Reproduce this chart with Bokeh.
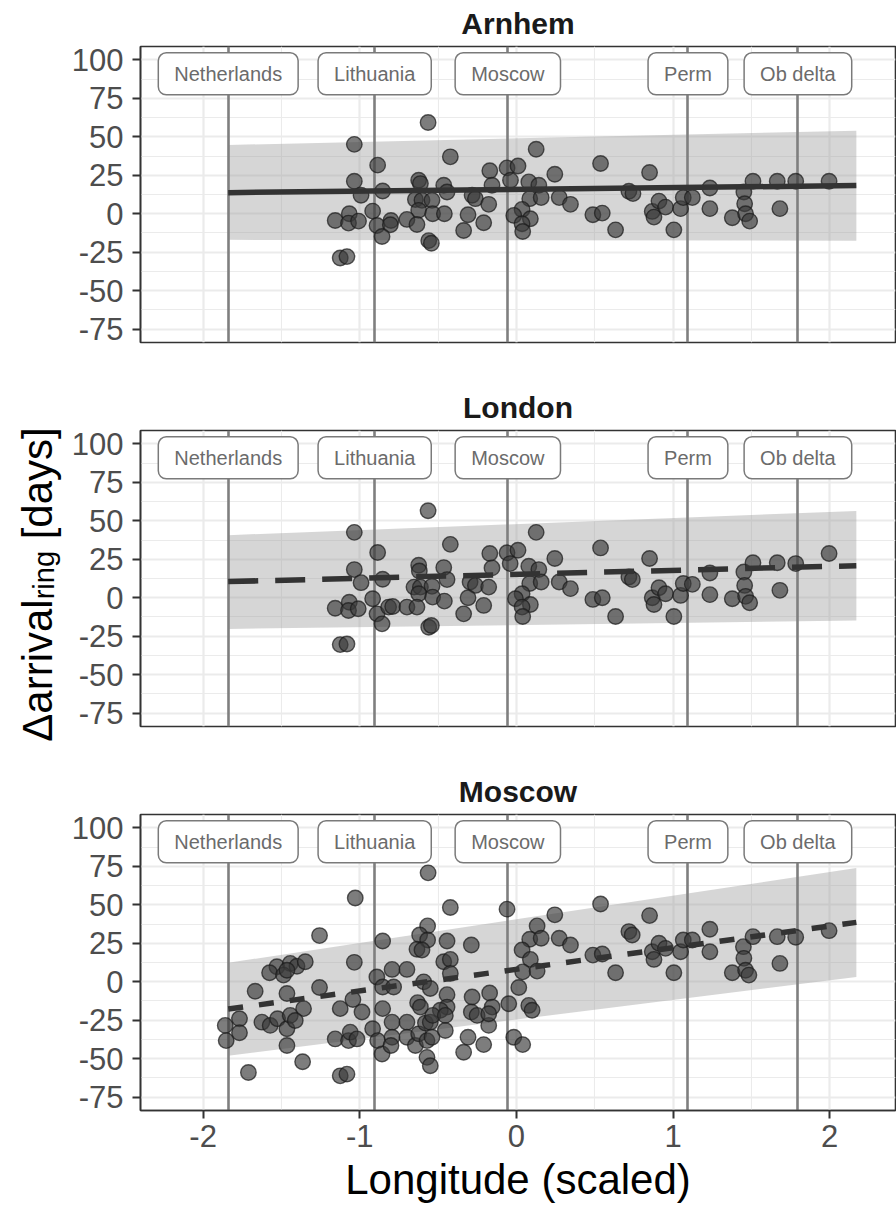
import math
from bokeh.plotting import figure
from bokeh.layouts import row, column
from bokeh.models import Range1d, FixedTicker, Label, Span
from bokeh.embed import file_html
from bokeh.resources import INLINE
from bokeh.core.properties import value

FONT = "Liberation Sans"

# ---------------- data ----------------
panel_titles = ["Arnhem", "London", "Moscow"]
site_names = ["Netherlands", "Lithuania", "Moscow", "Perm", "Ob delta"]
site_lon = [-1.84, -0.905, -0.055, 1.095, 1.797]
site_label_y = 91

x_ticks = [-2, -1, 0, 1, 2]
x_minor = [-1.5, -0.5, 0.5, 1.5]
y_ticks = [-75, -50, -25, 0, 25, 50, 75, 100]
y_minor = [-62.5, -37.5, -12.5, 12.5, 37.5, 62.5, 87.5]
x_lim = (-2.40, 2.42)
y_lim = (-83.75, 108.75)

arnhem_x = [-0.564, -1.035, -0.422, -0.886, -1.035, -0.170, -0.060, 0.010, -0.624, -0.613,
            -0.464, -0.443, -0.156, -0.038, -0.992, -0.854, -0.283, -0.262, -0.645, -0.603,
            -0.539, -0.177, -0.918, -0.624, -0.535, -0.460, -0.309, -1.157, -1.067, -1.072,
            -1.008, -0.890, -0.801, -0.805, -0.699, -0.635, -0.209, -0.858, -0.337, -0.560,
            -0.543, -1.125, -1.082,
            0.126, 0.079, 0.143, 0.245, 0.537, 0.850, 0.085, 0.158, 0.273, 0.345,
            0.036, -0.017, 0.089, 0.036, 0.040, 0.488, 0.548, 0.633, 0.718, 0.744,
            0.867, 0.878, 0.910, 0.952, 1.005, 1.048, 1.065, 1.123, 1.235, 1.235,
            1.378, 1.452, 1.457, 1.463, 1.489, 1.510, 1.665, 1.682, 1.783, 1.996]
arnhem_y = [59.3, 45.1, 37.0, 31.6, 21.1, 27.9, 29.8, 31.0, 21.8, 19.6,
            18.5, 14.1, 18.5, 21.8, 12.0, 14.8, 12.0, 9.8, 9.2, 8.7,
            8.7, 6.1, 1.7, 2.2, 0.0, 0.0, -0.7, -4.4, 0.0, -6.1,
            -4.8, -7.7, -4.4, -7.2, -3.7, -7.0, -5.9, -14.8, -10.9, -17.5,
            -19.2, -28.8, -27.9,
            41.9, 20.7, 18.5, 25.7, 32.7, 26.8, 9.8, 10.5, 10.5, 6.1,
            2.8, -1.1, -3.3, -6.5, -11.6, -0.7, 0.4, -10.5, 14.6, 13.1,
            1.5, -2.2, 8.2, 4.3, -10.5, 3.3, 10.5, 10.5, 16.7, 3.3,
            -2.6, 14.1, 6.5, 0.0, -4.8, 21.1, 21.1, 3.3, 21.1, 21.1]

london_x = [-0.564, -1.035, -0.422, -0.886, -1.035, -0.170, -0.060, 0.010, -0.624, -0.620,
            -0.464, -0.443, -0.156, -0.040, -0.992, -0.854, -0.296, -0.262, -0.654, -0.613,
            -0.539, -0.177, -0.918, -0.624, -0.535, -0.460, -0.309, -1.157, -1.067, -1.072,
            -1.010, -0.890, -0.816, -0.790, -0.699, -0.635, -0.209, -0.858, -0.337, -0.560,
            -0.543, -1.125, -1.082,
            0.126, 0.079, 0.143, 0.245, 0.537, 0.850, 0.085, 0.158, 0.273, 0.345,
            0.036, -0.006, 0.089, 0.036, 0.040, 0.488, 0.548, 0.633, 0.718, 0.740,
            0.867, 0.878, 0.910, 0.952, 1.005, 1.048, 1.065, 1.123, 1.235, 1.235,
            1.378, 1.452, 1.457, 1.463, 1.489, 1.510, 1.665, 1.682, 1.783, 1.996]
london_y = [56.6, 42.5, 34.7, 29.4, 18.3, 28.8, 29.2, 30.9, 21.1, 17.4,
            19.6, 11.8, 19.4, 22.2, 9.8, 12.0, 10.2, 8.0, 6.9, 6.9,
            7.4, 6.9, -0.7, 2.6, 0.4, -2.2, 0.0, -6.8, -2.9, -8.3,
            -7.2, -10.5, -6.1, -5.7, -6.1, -6.1, -5.0, -17.0, -10.5, -19.2,
            -18.1, -30.5, -30.1,
            42.5, 20.5, 18.3, 25.5, 32.4, 25.5, 9.2, 10.2, 10.2, 5.9,
            2.6, -0.7, -4.4, -6.1, -12.2, -1.1, 0.0, -12.2, 13.5, 11.8,
            0.0, -4.4, 6.5, 2.6, -12.2, 1.5, 9.2, 8.7, 16.1, 2.0,
            -0.7, 16.7, 8.0, 0.9, -3.3, 22.7, 22.7, 4.8, 22.2, 28.8]

moscow_x = [-0.564, -1.029, -0.422, -0.060, -1.257, -1.035, -0.567, -0.618, -0.567, -0.635,
            -0.603, -0.854, -0.443, -0.288, -1.529, -1.444, -1.401, -1.348, -1.576, -1.487,
            -1.465, -0.464, -0.422, -0.422, -0.794, -0.699, -0.891, -0.854, -1.257, -1.668,
            -1.465, -0.784, -0.592, -0.550, -1.044, -0.631, -0.613, -0.443, -0.283, -0.171,
            -1.359, -1.125, -0.986, -0.854, -0.443, -0.486, -0.288, -0.251, -0.155, -0.177,
            -0.049, -1.859, -1.853, -1.768, -1.768, -1.625, -1.572, -1.525, -1.465, -1.444,
            -1.412, -1.465, -1.365, -1.711, -1.157, -1.072, -1.061, -1.018, -1.125, -1.082,
            -0.918, -0.886, -0.858, -0.794, -0.794, -0.801, -0.699, -0.699, -0.645, -0.624,
            -0.581, -0.550, -0.571, -0.539, -0.571, -0.550, -0.535, -0.454, -0.454, -0.309,
            -0.337, -0.209, -0.177,
            0.245, 0.537, 0.850, 0.132, 0.085, 0.158, 0.273, 0.345, 0.036, 0.089,
            0.040, 0.132, 0.015, 0.079, 0.100, -0.017, 0.040, 0.488, 0.548, 0.633,
            0.718, 0.739, 0.867, 0.878, 0.910, 0.952, 1.005, 1.048, 1.065, 1.123,
            1.235, 1.235, 1.378, 1.449, 1.452, 1.463, 1.484, 1.510, 1.665, 1.682,
            1.783, 1.996]
moscow_y = [70.8, 54.4, 48.3, 47.2, 30.0, 12.6, 36.3, 30.4, 27.1, 21.1,
            20.6, 26.5, 26.5, 23.9, 9.7, 11.9, 10.1, 13.0, 5.8, 4.3,
            7.5, 13.0, 14.5, 5.4, 8.0, 8.0, 3.1, -3.4, -3.8, -6.2,
            -7.7, -3.4, -0.1, -4.4, -11.6, -13.6, -16.5, -8.4, -9.9, -7.3,
            -17.5, -17.5, -19.7, -17.5, -16.5, -18.6, -19.7, -21.9, -16.5, -28.4,
            -14.3, -28.4, -38.3, -24.1, -33.2, -26.3, -28.4, -24.1, -30.6, -21.9,
            -25.2, -41.5, -52.0, -59.0, -37.2, -38.3, -32.8, -37.2, -61.2, -60.1,
            -30.6, -38.3, -47.0, -26.3, -36.1, -41.5, -26.3, -36.1, -41.5, -33.9,
            -26.9, -26.3, -38.3, -36.1, -49.2, -54.6, -21.9, -21.9, -31.7, -36.1,
            -45.9, -40.9, -20.8,
            43.5, 50.5, 43.0, 36.3, 27.6, 28.3, 28.3, 23.9, 20.6, 14.5,
            6.4, 6.9, -3.8, -15.4, -18.6, -36.1, -40.9, 17.3, 18.0, 5.8,
            32.6, 30.4, 19.5, 14.5, 25.0, 21.7, 5.8, 19.5, 27.1, 27.1,
            34.1, 19.5, 5.8, 22.8, 15.2, 7.5, 4.3, 29.3, 29.3, 11.9,
            28.9, 33.2]

fit_x = [-1.84, 2.17]
arnhem_fit = [13.7, 18.3]
arnhem_lo = [-17.0, -17.5]
arnhem_hi = [44.7, 54.0]
london_fit = [10.5, 20.8]
london_lo = [-20.3, -14.8]
london_hi = [40.7, 56.4]
moscow_fit = [-17.8, 38.6]
moscow_lo = [-48.1, 3.1]
moscow_hi = [12.3, 74.0]

y_title_main = "Δarrival"
y_title_sub = "ring"
y_title_tail = "[days]"
x_title = "Longitude (scaled)"

# ---------------- layout constants (pixels) ----------------
YL_W = 66
LEFT = 74
RIGHT = 1
FW = 755
TOP = 46
BOT_MID = 42
BOT_LAST = 102
FH = 296


def set_padding(lab):
    try:
        lab.padding = dict(left=16, right=16, top=10, bottom=10)
    except Exception:
        lab.padding = 12


def make_panel(title, xs, ys, fit, lo, hi, dash, is_bottom):
    hb = BOT_LAST if is_bottom else BOT_MID
    p = figure(width=LEFT + FW + RIGHT, height=TOP + FH + hb,
               x_range=Range1d(*x_lim), y_range=Range1d(*y_lim),
               output_backend="svg", toolbar_location=None,
               min_border_left=LEFT, min_border_right=RIGHT,
               min_border_top=TOP, min_border_bottom=hb)
    p.title.text = title
    p.title.align = "center"
    p.title.vertical_align = "top"
    p.title.text_font = FONT
    p.title.text_font_size = "30px"
    p.title.text_font_style = "bold"
    p.title.text_color = "#1a1a1a"
    p.title.standoff = 10
    p.background_fill_color = "white"
    p.border_fill_color = "white"
    p.outline_line_color = "#333333"
    p.outline_line_width = 1.6

    xt = FixedTicker(ticks=x_ticks, minor_ticks=x_minor)
    yt = FixedTicker(ticks=y_ticks, minor_ticks=y_minor)
    p.xaxis.ticker = xt
    p.yaxis.ticker = yt
    p.xgrid.ticker = xt
    p.ygrid.ticker = yt
    for g in (p.xgrid, p.ygrid):
        g.grid_line_color = "#ebebeb"
        g.grid_line_width = 2.2
        g.minor_grid_line_color = "#ebebeb"
        g.minor_grid_line_width = 1.1

    for ax in (p.xaxis, p.yaxis):
        ax.axis_line_color = "#333333"
        ax.axis_line_width = 1.6
        ax.major_tick_line_color = "#333333"
        ax.major_tick_line_width = 2
        ax.major_tick_out = 8
        ax.major_tick_in = 0
        ax.minor_tick_line_color = None
        ax.major_label_text_font = FONT
        ax.major_label_text_font_size = "31px"
        ax.major_label_text_color = "#4d4d4d"
    p.yaxis.major_label_standoff = 9
    p.xaxis.major_label_overrides = {t: str(t) for t in x_ticks}
    p.yaxis.major_label_overrides = {t: str(t) for t in y_ticks}

    if is_bottom:
        p.xaxis.axis_label = x_title
        p.xaxis.axis_label_text_font = FONT
        p.xaxis.axis_label_text_font_size = "42px"
        p.xaxis.axis_label_text_font_style = "normal"
        p.xaxis.axis_label_text_color = "black"
        p.xaxis.axis_label_standoff = 6
        p.xaxis.major_label_standoff = 6
    else:
        p.xaxis.visible = False

    # prediction band
    p.varea(x=fit_x, y1=lo, y2=hi, fill_color="#999999", fill_alpha=0.4)
    # site longitudes
    if hasattr(p, "vspan"):
        p.vspan(x=site_lon, line_color="#7f7f7f", line_width=2.6)
    else:
        for lon in site_lon:
            p.add_layout(Span(location=lon, dimension="height", line_color="#7f7f7f", line_width=2.6))
    # points
    p.scatter(xs, ys, size=15.5, fill_color="#3a3a3a", fill_alpha=0.66,
              line_color="#1a1a1a", line_alpha=0.7, line_width=1.4)
    # fit line
    p.line(fit_x, fit, line_color="#333333", line_width=5.5, line_dash=dash)

    for name, lon in zip(site_names, site_lon):
        lab = Label(x=lon, y=site_label_y, text=name, text_align="center",
                    text_baseline="middle", text_font=FONT, text_font_size="20px",
                    text_color="#6b6b6b", background_fill_color="white",
                    border_line_color="#7a7a7a", border_line_width=1.5)
        set_padding(lab)
        try:
            lab.border_radius = 8
        except Exception:
            pass
        p.add_layout(lab)
    return p


p1 = make_panel(panel_titles[0], arnhem_x, arnhem_y, arnhem_fit, arnhem_lo, arnhem_hi, "solid", False)
p2 = make_panel(panel_titles[1], london_x, london_y, london_fit, london_lo, london_hi, "30 17", False)
p3 = make_panel(panel_titles[2], moscow_x, moscow_y, moscow_fit, moscow_lo, moscow_hi, "15 16", True)

H_TOTAL = 3 * (TOP + FH) + 2 * BOT_MID + BOT_LAST

# ---------------- shared y-axis title (own narrow figure on the left) ----------------
ARIAL_W = {"Δ": 0.668, "a": 0.556, "r": 0.333, "i": 0.222, "v": 0.5, "l": 0.222,
           "n": 0.556, "g": 0.556, " ": 0.278, "[": 0.278, "]": 0.278, "d": 0.556,
           "y": 0.5, "s": 0.5}


def text_w(s, size):
    return sum(ARIAL_W.get(c, 0.55) for c in s) * size


yl = figure(width=YL_W, height=H_TOTAL, x_range=Range1d(0, YL_W), y_range=Range1d(0, H_TOTAL),
            output_backend="svg", toolbar_location=None,
            x_axis_location=None, y_axis_location=None,
            min_border=0, min_border_left=0, min_border_right=0,
            min_border_top=0, min_border_bottom=0)
yl.grid.visible = False
yl.outline_line_color = None
yl.border_fill_color = "white"
yl.background_fill_color = "white"

BIG = 42
SMALL = 29
w_main = text_w(y_title_main, BIG)
w_sub = text_w(y_title_sub, SMALL)
w_space = text_w(" ", BIG)
w_tail = text_w(y_title_tail, BIG)
total = w_main + w_sub + w_space + w_tail
center_y = H_TOTAL - 584
y0 = center_y - total / 2
base_x = 37
sub_shift = 6
pieces = [(y_title_main, BIG, 0, y0),
          (y_title_sub, SMALL, sub_shift, y0 + w_main),
          (y_title_tail, BIG, 0, y0 + w_main + w_sub + w_space)]
for txt, size, shift, yy in pieces:
    yl.text(x=[base_x + shift], y=[yy], text=[txt], angle=math.pi / 2,
            text_font=value(FONT), text_font_size=f"{size}px", text_align="left",
            text_baseline="alphabetic", text_color="black")

layout = row(yl, column(p1, p2, p3))

open("out.html", "w").write(file_html(layout, INLINE))
